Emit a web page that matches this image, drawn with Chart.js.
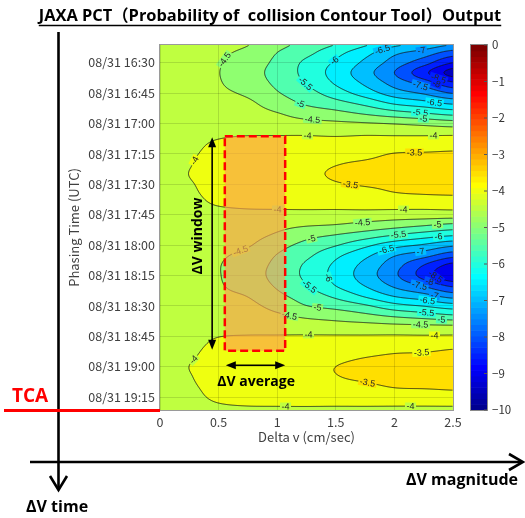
<!DOCTYPE html>
<html><head><meta charset="utf-8">
<script src="https://cdn.jsdelivr.net/npm/chart.js@4.4.0/dist/chart.umd.min.js"></script>
<style>html,body{margin:0;padding:0;background:#fff;}canvas{display:block;}</style>
</head><body>
<canvas id="c" width="525" height="518"></canvas>
<script>
// ---------- data ----------
const deltaV = [0, 0.25, 0.5, 0.75, 1.0, 1.25, 1.5, 1.75, 2.0, 2.25, 2.5];            // cm/sec
const phasingMinutes = [-10,-5,0,5,10,15,20,25,30,35,40,45,50,55,60,65,70,75,80,85,90,95,
  100,105,110,115,120,125,130,135,140,145,150,155,160,165,170,175];                    // minutes after 08/31 16:30
// log10(Pc) per delta-v column, one value per phasing-time row
const logPc_dv000 = [-4.22,-4.22,-4.22,-4.22,-4.22,-4.22,-4.22,-4.22,-4.22,-4.22,-4.22,-4.22,-4.22,-4.22,-4.22,-4.22,-4.22,-4.22,-4.22,-4.22,-4.22,-4.22,-4.22,-4.22,-4.22,-4.22,-4.22,-4.22,-4.22,-4.22,-4.22,-4.22,-4.22,-4.22,-4.22,-4.22,-4.22,-4.22];
const logPc_dv025 = [-4.29,-4.30,-4.32,-4.33,-4.32,-4.30,-4.28,-4.25,-4.20,-4.13,-4.09,-4.05,-4.02,-3.995,-4.03,-4.06,-4.10,-4.15,-4.22,-4.26,-4.29,-4.31,-4.32,-4.33,-4.31,-4.29,-4.27,-4.24,-4.18,-4.12,-4.08,-4.04,-3.998,-4.02,-4.05,-4.09,-4.13,-4.19];
const logPc_dv050 = [-4.38,-4.43,-4.47,-4.49,-4.47,-4.42,-4.36,-4.29,-4.20,-4.07,-3.95,-3.90,-3.87,-3.86,-3.88,-3.91,-3.98,-4.13,-4.23,-4.31,-4.38,-4.44,-4.48,-4.48,-4.46,-4.41,-4.34,-4.26,-4.17,-4.01,-3.93,-3.89,-3.87,-3.87,-3.90,-3.94,-4.05,-4.19];
const logPc_dv075 = [-4.46,-4.61,-4.75,-4.80,-4.74,-4.58,-4.42,-4.32,-4.22,-4.04,-3.86,-3.79,-3.75,-3.73,-3.76,-3.81,-3.92,-4.11,-4.25,-4.35,-4.46,-4.63,-4.76,-4.78,-4.70,-4.52,-4.39,-4.29,-4.18,-3.98,-3.84,-3.78,-3.74,-3.75,-3.79,-3.85,-4.02,-4.20];
const logPc_dv100 = [-4.81,-5.00,-5.11,-5.17,-5.10,-4.96,-4.75,-4.48,-4.30,-4.05,-3.80,-3.70,-3.66,-3.64,-3.67,-3.73,-3.88,-4.14,-4.36,-4.56,-4.82,-5.02,-5.12,-5.15,-5.06,-4.89,-4.66,-4.42,-4.24,-3.97,-3.77,-3.69,-3.65,-3.66,-3.70,-3.79,-4.02,-4.27];
const logPc_dv125 = [-5.14,-5.36,-5.61,-5.65,-5.53,-5.31,-5.07,-4.71,-4.36,-4.06,-3.75,-3.62,-3.58,-3.56,-3.59,-3.66,-3.85,-4.16,-4.45,-4.84,-5.15,-5.39,-5.58,-5.61,-5.47,-5.23,-4.99,-4.58,-4.27,-3.96,-3.71,-3.61,-3.57,-3.58,-3.62,-3.74,-4.02,-4.32];
const logPc_dv150 = [-5.45,-5.83,-6.07,-6.20,-6.06,-5.75,-5.32,-4.85,-4.41,-4.11,-3.72,-3.58,-3.51,-3.47,-3.52,-3.62,-3.83,-4.19,-4.51,-5.01,-5.46,-5.88,-6.10,-6.15,-6.01,-5.62,-5.17,-4.69,-4.31,-3.96,-3.68,-3.56,-3.50,-3.51,-3.58,-3.71,-4.03,-4.36];
const logPc_dv175 = [-5.86,-6.32,-6.61,-6.80,-6.59,-6.23,-5.64,-5.06,-4.46,-4.07,-3.70,-3.56,-3.47,-3.43,-3.48,-3.60,-3.82,-4.19,-4.64,-5.23,-5.87,-6.37,-6.65,-6.73,-6.52,-6.08,-5.43,-4.86,-4.33,-3.96,-3.65,-3.51,-3.45,-3.46,-3.55,-3.69,-4.03,-4.40];
const logPc_dv200 = [-6.29,-6.88,-7.22,-7.50,-7.19,-6.75,-6.07,-5.29,-4.53,-4.09,-3.68,-3.49,-3.43,-3.38,-3.45,-3.53,-3.81,-4.23,-4.78,-5.49,-6.30,-6.95,-7.29,-7.40,-7.09,-6.55,-5.82,-5.06,-4.38,-3.95,-3.61,-3.47,-3.40,-3.42,-3.49,-3.66,-4.04,-4.46];
const logPc_dv225 = [-6.54,-7.21,-7.79,-8.35,-7.71,-7.07,-6.30,-5.47,-4.63,-4.09,-3.72,-3.47,-3.39,-3.34,-3.42,-3.50,-3.83,-4.23,-4.93,-5.73,-6.56,-7.30,-8.01,-8.19,-7.56,-6.83,-6.03,-5.22,-4.41,-3.96,-3.61,-3.45,-3.37,-3.39,-3.47,-3.69,-4.04,-4.50];
const logPc_dv250 = [-6.87,-7.70,-8.50,-9.20,-8.41,-7.53,-6.59,-5.67,-4.75,-4.09,-3.68,-3.45,-3.36,-3.30,-3.39,-3.48,-3.81,-4.23,-5.10,-5.93,-6.89,-7.80,-8.67,-8.95,-8.11,-7.23,-6.28,-5.40,-4.43,-3.95,-3.56,-3.42,-3.33,-3.36,-3.45,-3.65,-4.04,-4.57];
const logPcColumns = [logPc_dv000, logPc_dv025, logPc_dv050, logPc_dv075, logPc_dv100, logPc_dv125,
  logPc_dv150, logPc_dv175, logPc_dv200, logPc_dv225, logPc_dv250];

const contourLevels = [-9.5,-9,-8.5,-8,-7.5,-7,-6.5,-6,-5.5,-5,-4.5,-4,-3.5];
const xTickValues = [0, 0.5, 1, 1.5, 2, 2.5];
const xTickLabels = ['0', '0.5', '1', '1.5', '2', '2.5'];
const yTickMinutes = [0,15,30,45,60,75,90,105,120,135,150,165];
const yTickLabels = ['08/31 16:30','08/31 16:45','08/31 17:00','08/31 17:15','08/31 17:30','08/31 17:45',
  '08/31 18:00','08/31 18:15','08/31 18:30','08/31 18:45','08/31 19:00','08/31 19:15'];
const yRange = [-8.73, 171.4];
const colorbarTicks = [0,-1,-2,-3,-4,-5,-6,-7,-8,-9,-10];
const colorbarLabels = ['0','\u22121','\u22122','\u22123','\u22124','\u22125','\u22126','\u22127','\u22128','\u22129','\u221210'];
// contour labels: [delta v, minutes, level]
const contourLabels = [
  [0.58,0,-4.5],[1.24,9.5,-5.5],[1.19,19.4,-5],[1.30,27.8,-4.5],[1.25,34.7,-4],[0.27,47,-4],
  [1.5,0.6,-6],[1.92,-4.8,-6.5],[2.23,-6.3,-7],[2.37,7,-8.5],[2.32,12.5,-8],[2.2,14.5,-7.5],
  [2.32,20.8,-6.5],[2.22,25,-5.5],[2.24,28,-5],[2.33,36.7,-4],[2.17,43,-3.5],[1.62,61,-3.5],
  [1.0,74,-4],[0.67,90,-4.5],[1.3,87.5,-5],[1.25,110.7,-5.5],[1.34,119.6,-5],[1.13,123.5,-4.5],
  [1.26,133,-4],[2.07,73,-4],[1.72,79,-4.5],[2.03,84.5,-5.5],[2.36,79,-5],[2.36,84.5,-6],
  [1.93,92.5,-6.5],[2.22,91,-7],[1.43,106,-6],[2.19,111,-7.5],[2.29,110.6,-8],[2.34,105.6,-8.5],
  [2.34,117,-7],[2.26,118.6,-6.5],[2.27,123.6,-5.5],[2.4,127,-5],[2.22,130,-4.5],[2.34,134,-4],
  [0.26,145,-4],[1.07,170.4,-4],[2.22,140.8,-3.5],[1.77,160,-3.5],[2.13,170,-4]
];
// annotation (in data units)
const windowMinutes = [36.3, 142.2];   // ΔV window (17:06 - 18:52)
const averageDv = [0.553, 1.068];      // ΔV average band
const windowArrowDv = 0.445;
const averageArrowMinutes = 149.3;

// ---------- helpers ----------
function cell(i, j) {
  i = Math.max(0, Math.min(logPcColumns.length - 1, i));
  j = Math.max(0, Math.min(phasingMinutes.length - 1, j));
  return logPcColumns[i][j];
}
function cr(p0, p1, p2, p3, t) {
  return 0.5 * (2*p1 + (-p0 + p2)*t + (2*p0 - 5*p1 + 4*p2 - p3)*t*t + (-p0 + 3*p1 - 3*p2 + p3)*t*t*t);
}
function fieldAt(dv, t) {
  const fx = (dv - deltaV[0]) / (deltaV[1] - deltaV[0]);
  const fy = (t - phasingMinutes[0]) / (phasingMinutes[1] - phasingMinutes[0]);
  const i = Math.floor(fx), j = Math.floor(fy);
  const u = fx - i, w = fy - j;
  const r = [];
  for (let k = -1; k <= 2; k++) r.push(cr(cell(i-1, j+k), cell(i, j+k), cell(i+1, j+k), cell(i+2, j+k), u));
  return cr(r[0], r[1], r[2], r[3], w);
}
function uu(k) { if (k < 1 || k > 47) return 0; if (k <= 16) return k/16; if (k <= 31) return 1; return (48-k)/16; }
function jet64(i0) { const i = i0 + 1; return [Math.round(255*uu(i-24)), Math.round(255*uu(i-8)), Math.round(255*uu(i+8))]; }
function bandColor(v) {
  let L = Math.floor(v * 2) / 2;
  L = Math.max(-10, Math.min(-0.5, L));
  let idx = Math.floor((L + 10) / 10 * 64);
  idx = Math.max(0, Math.min(63, idx));
  return jet64(idx);
}

// ---------- plugins ----------
const contourPlugin = {
  id: 'contourFill',
  beforeDatasetsDraw(chart) {
    const ctx = chart.ctx, a = chart.chartArea, xs = chart.scales.x, ys = chart.scales.y;
    const L = Math.round(a.left), T = Math.round(a.top);
    const W = Math.round(a.right) - L, H = Math.round(a.bottom) - T;
    const vals = new Float32Array(W * H);
    const img = ctx.createImageData(W, H);
    for (let j = 0; j < H; j++) {
      const t = ys.getValueForPixel(T + j + 0.5);
      for (let i = 0; i < W; i++) {
        const dv = xs.getValueForPixel(L + i + 0.5);
        const v = fieldAt(dv, t);
        vals[j*W + i] = v;
        const c = bandColor(v), k = (j*W + i) * 4;
        img.data[k] = c[0]; img.data[k+1] = c[1]; img.data[k+2] = c[2]; img.data[k+3] = 255;
      }
    }
    ctx.putImageData(img, L, T);
    const V = (i, j) => vals[Math.max(0, Math.min(H-1, j))*W + Math.max(0, Math.min(W-1, i))];
    ctx.save();
    ctx.beginPath(); ctx.rect(a.left, a.top, a.right - a.left, a.bottom - a.top); ctx.clip();
    ctx.strokeStyle = 'rgba(20,20,20,0.9)'; ctx.lineWidth = 0.9;
    for (const lv of contourLevels) {
      ctx.beginPath();
      for (let j = 0; j < H - 1; j++) {
        for (let i = 0; i < W - 1; i++) {
          const va = vals[j*W+i], vb = vals[j*W+i+1], vc = vals[(j+1)*W+i+1], vd = vals[(j+1)*W+i];
          const sa = va > lv, sb = vb > lv, sc = vc > lv, sd = vd > lv;
          if (sa === sb && sb === sc && sc === sd) continue;
          const x0 = L + i + 0.5, y0 = T + j + 0.5;
          const pts = {};
          if (sa !== sb) pts.t = [x0 + (lv - va)/(vb - va), y0];
          if (sb !== sc) pts.r = [x0 + 1, y0 + (lv - vb)/(vc - vb)];
          if (sd !== sc) pts.b = [x0 + (lv - vd)/(vc - vd), y0 + 1];
          if (sa !== sd) pts.l = [x0, y0 + (lv - va)/(vd - va)];
          const keys = Object.keys(pts);
          const seg = (p, q) => { ctx.moveTo(p[0], p[1]); ctx.lineTo(q[0], q[1]); };
          if (keys.length === 2) seg(pts[keys[0]], pts[keys[1]]);
          else if (keys.length === 4) {
            const cen = (va + vb + vc + vd) / 4 > lv;
            if (cen === sa) { seg(pts.t, pts.r); seg(pts.b, pts.l); }
            else { seg(pts.t, pts.l); seg(pts.r, pts.b); }
          }
        }
      }
      ctx.stroke();
    }
    // contour labels
    ctx.font = '9px "Liberation Sans", Arial, sans-serif';
    ctx.textAlign = 'center'; ctx.textBaseline = 'middle';
    for (const [dv, t, lv] of contourLabels) {
      const pi = Math.round(xs.getPixelForValue(dv) - L), pj = Math.round(ys.getPixelForValue(t) - T);
      let best = null, bs = 1e9;
      for (let dj = -9; dj <= 9; dj++) for (let di = -9; di <= 9; di++) {
        const i = pi + di, j = pj + dj;
        if (i < 2 || j < 2 || i > W-3 || j > H-3) continue;
        const gx = (V(i+1,j) - V(i-1,j)) / 2, gy = (V(i,j+1) - V(i,j-1)) / 2;
        const g = Math.hypot(gx, gy) + 1e-6;
        const s = Math.abs(V(i,j) - lv) / g + 0.25 * Math.hypot(di, dj);
        if (s < bs) { bs = s; best = [i, j, gx, gy]; }
      }
      if (!best) continue;
      const [i, j, gx, gy] = best;
      let ang = Math.atan2(gy, gx) + Math.PI/2;
      while (ang > Math.PI/2) ang -= Math.PI;
      while (ang < -Math.PI/2) ang += Math.PI;
      const txt = String(lv);
      const w = ctx.measureText(txt).width;
      const bc = bandColor(V(i, j));
      ctx.save();
      ctx.translate(L + i + 0.5, T + j + 0.5); ctx.rotate(ang);
      ctx.fillStyle = 'rgb(' + bc.join(',') + ')';
      ctx.fillRect(-w/2 - 1.5, -4, w + 3, 8);
      ctx.fillStyle = '#262626';
      ctx.fillText(txt, 0, 0.5);
      ctx.restore();
    }
    ctx.restore();
  }
};

const overlayPlugin = {
  id: 'overlay',
  afterDraw(chart) {
    const ctx = chart.ctx, a = chart.chartArea, xs = chart.scales.x, ys = chart.scales.y;
    ctx.save();
    // plot box
    ctx.strokeStyle = '#9a9a9a'; ctx.lineWidth = 1;
    ctx.strokeRect(Math.round(a.left) - 0.5, Math.round(a.top) - 0.5, Math.round(a.right - a.left) + 1, Math.round(a.bottom - a.top) + 1);

    // ΔV window / average rectangle
    const rx0 = xs.getPixelForValue(averageDv[0]), rx1 = xs.getPixelForValue(averageDv[1]);
    const ry0 = ys.getPixelForValue(windowMinutes[0]), ry1 = ys.getPixelForValue(windowMinutes[1]);
    ctx.fillStyle = 'rgba(250,160,80,0.65)';
    ctx.fillRect(rx0, ry0, rx1 - rx0, ry1 - ry0);
    ctx.strokeStyle = '#ff0000'; ctx.lineWidth = 2.5; ctx.setLineDash([8, 4]);
    ctx.strokeRect(rx0, ry0, rx1 - rx0, ry1 - ry0);
    ctx.setLineDash([]);

    // arrows
    function dblArrow(x0, y0, x1, y1) {
      const ang = Math.atan2(y1 - y0, x1 - x0), hl = 10, hw = 4;
      ctx.strokeStyle = '#000'; ctx.fillStyle = '#000'; ctx.lineWidth = 1.6;
      ctx.beginPath(); ctx.moveTo(x0 + Math.cos(ang)*hl*0.8, y0 + Math.sin(ang)*hl*0.8);
      ctx.lineTo(x1 - Math.cos(ang)*hl*0.8, y1 - Math.sin(ang)*hl*0.8); ctx.stroke();
      for (const [px, py, d] of [[x0, y0, ang + Math.PI], [x1, y1, ang]]) {
        ctx.beginPath(); ctx.moveTo(px, py);
        ctx.lineTo(px - Math.cos(d)*hl + Math.sin(d)*hw, py - Math.sin(d)*hl - Math.cos(d)*hw);
        ctx.lineTo(px - Math.cos(d)*hl - Math.sin(d)*hw, py - Math.sin(d)*hl + Math.cos(d)*hw);
        ctx.closePath(); ctx.fill();
      }
    }
    const wx = xs.getPixelForValue(windowArrowDv);
    dblArrow(wx, ry0 + 1, wx, ry1 - 1);
    const ay = ys.getPixelForValue(averageArrowMinutes);
    dblArrow(rx0 + 1, ay, rx1, ay);

    ctx.fillStyle = '#000';
    ctx.font = 'bold 14px "Open Sans", "DejaVu Sans", sans-serif';
    ctx.textAlign = 'center'; ctx.textBaseline = 'middle';
    ctx.save();
    ctx.translate(xs.getPixelForValue(0.327), ys.getPixelForValue(85.5)); ctx.rotate(-Math.PI/2);
    ctx.fillText('\u0394V window', 0, 0);
    ctx.restore();
    ctx.fillText('\u0394V average', xs.getPixelForValue(0.82), ys.getPixelForValue(157.8));

    // colorbar
    const cbL = 471, cbR = 487, cbT = a.top, cbB = a.bottom;
    const h = (cbB - cbT) / 64;
    for (let i = 0; i < 64; i++) {
      const c = jet64(i);
      ctx.fillStyle = 'rgb(' + c.join(',') + ')';
      ctx.fillRect(cbL, cbB - (i+1)*h, cbR - cbL, h + 0.6);
    }
    ctx.strokeStyle = '#8a8a8a'; ctx.lineWidth = 1;
    ctx.strokeRect(cbL - 0.5, cbT - 0.5, cbR - cbL + 1, cbB - cbT + 1);
    ctx.fillStyle = '#333'; ctx.font = '11.5px "Noto Sans CJK JP", "Liberation Sans", sans-serif';
    ctx.textAlign = 'left'; ctx.textBaseline = 'middle';
    colorbarTicks.forEach((v, k) => {
      const y = cbT + (0 - v) / 10 * (cbB - cbT);
      ctx.strokeStyle = '#555';
      ctx.beginPath(); ctx.moveTo(cbR - 3, y); ctx.lineTo(cbR, y); ctx.stroke();
      ctx.fillText(colorbarLabels[k], cbR + 5, y);
    });

    // big diagram axes
    ctx.strokeStyle = '#000'; ctx.lineWidth = 2.6; ctx.lineCap = 'butt';
    ctx.beginPath(); ctx.moveTo(58.5, 32); ctx.lineTo(58.5, 489); ctx.stroke();
    ctx.beginPath(); ctx.moveTo(50, 476); ctx.lineTo(58.5, 490); ctx.lineTo(67, 476); ctx.stroke();
    ctx.beginPath(); ctx.moveTo(30, 462); ctx.lineTo(522, 462); ctx.stroke();
    ctx.beginPath(); ctx.moveTo(509, 454); ctx.lineTo(523, 462); ctx.lineTo(509, 470); ctx.stroke();

    // TCA
    ctx.strokeStyle = '#ff0000'; ctx.lineWidth = 3;
    const tcaY = ys.getPixelForValue(yRange[1]) + 0.5;
    ctx.beginPath(); ctx.moveTo(4, tcaY); ctx.lineTo(a.left, tcaY); ctx.stroke();
    ctx.fillStyle = '#ff0000'; ctx.font = 'bold 19px "Open Sans", sans-serif';
    ctx.textAlign = 'center'; ctx.textBaseline = 'middle';
    ctx.fillText('TCA', 30, 397);

    ctx.fillStyle = '#000'; ctx.font = 'bold 16px "Open Sans", "DejaVu Sans", sans-serif';
    ctx.fillText('\u0394V magnitude', 462, 480);
    ctx.textAlign = 'left';
    ctx.fillText('\u0394V time', 26, 507);

    // title
    const title = 'JAXA PCT\uFF08Probability of  collision Contour Tool\uFF09Output';
    ctx.font = 'bold 16.4px "Open Sans", "Noto Sans CJK JP", sans-serif';
    ctx.textAlign = 'center'; ctx.textBaseline = 'alphabetic';
    const tw = ctx.measureText(title).width;
    ctx.fillText(title, 270, 21);
    ctx.strokeStyle = '#000'; ctx.lineWidth = 1.3;
    ctx.beginPath(); ctx.moveTo(270 - tw/2, 25.5); ctx.lineTo(270 + tw/2, 25.5); ctx.stroke();
    ctx.restore();
  }
};

const gridPoints = [];
deltaV.forEach((dv, i) => phasingMinutes.forEach((t, j) => gridPoints.push({x: dv, y: t, v: logPcColumns[i][j]})));

const tickFont = {family: '"Noto Sans CJK JP", "Liberation Sans", sans-serif', size: 12.5};
new Chart(document.getElementById('c'), {
  type: 'scatter',
  data: {datasets: [{data: gridPoints, pointRadius: 0, pointHoverRadius: 0, showLine: false}]},
  options: {
    responsive: false, animation: false, devicePixelRatio: 1,
    layout: {padding: {left: 60, right: 72, top: 45, bottom: 68}},
    plugins: {legend: {display: false}, tooltip: {enabled: false}},
    events: [],
    scales: {
      x: {
        type: 'linear', min: 0, max: 2.5,
        afterBuildTicks: s => { s.ticks = xTickValues.map(v => ({value: v})); },
        afterFit: s => { s.height = 40; },
        ticks: {autoSkip: false, maxRotation: 0, padding: 5, color: '#404040', font: tickFont,
          callback: (v) => xTickLabels[xTickValues.indexOf(v)]},
        grid: {color: 'rgba(0,0,0,0.13)', z: 1, drawTicks: false},
        border: {display: false},
        title: {display: true, text: 'Delta v (cm/sec)', color: '#404040',
          font: {family: tickFont.family, size: 13}, padding: {top: 0, bottom: 5}}
      },
      y: {
        type: 'linear', min: yRange[0], max: yRange[1], reverse: true,
        afterBuildTicks: s => { s.ticks = yTickMinutes.map(v => ({value: v})); },
        afterFit: s => { s.width = 100; },
        ticks: {autoSkip: false, padding: 5, color: '#404040', font: tickFont,
          callback: (v) => yTickLabels[yTickMinutes.indexOf(v)]},
        grid: {color: 'rgba(0,0,0,0.13)', z: 1, drawTicks: false},
        border: {display: false},
        title: {display: true, text: 'Phasing Time (UTC)', color: '#404040',
          font: {family: tickFont.family, size: 13}, padding: {top: 6, bottom: 0}}
      }
    }
  },
  plugins: [contourPlugin, overlayPlugin]
});
</script>
</body></html>
